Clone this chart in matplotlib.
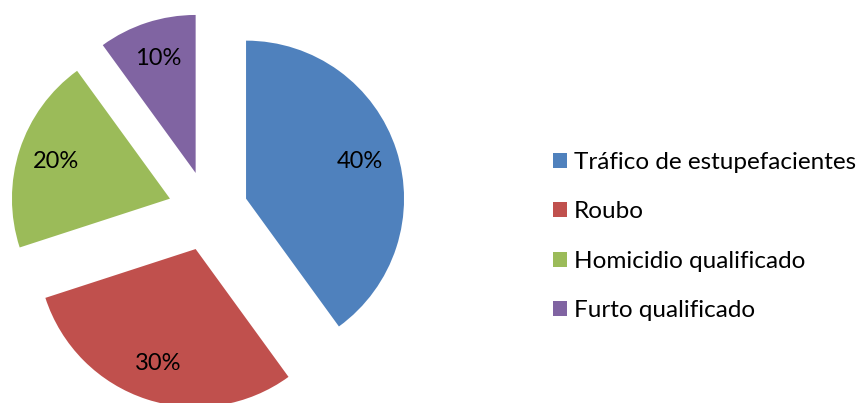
import matplotlib.pyplot as plt
from matplotlib.patches import Patch

categories = ["Tráfico de estupefacientes", "Roubo", "Homicidio qualificado", "Furto qualificado"]
shares = [40, 30, 20, 10]
colors = ["#4F81BD", "#C0504D", "#9BBB59", "#8064A2"]

plt.rcParams['font.family'] = ['Lato', 'DejaVu Sans']

W, H = 863, 403
fig = plt.figure(figsize=(W / 100, H / 100), dpi=100)
ax = fig.add_axes([0, 0, 1, 1])

# work in pixel-like units so the pie sits where it should
radius = 158
gap = 40  # explode offset, same units as radius
wedges, texts, autotexts = ax.pie(
    shares,
    colors=colors,
    startangle=90,
    counterclock=False,
    explode=[gap] * len(shares),
    radius=radius,
    center=(208, H - 211),
    autopct='%d%%',
    pctdistance=0.76,
    wedgeprops=dict(linewidth=0),
    textprops=dict(fontsize=17, color='black'),
)
ax.set_xlim(0, W)
ax.set_ylim(0, H)
ax.set_aspect('equal')
ax.axis('off')

handles = [Patch(facecolor=c, edgecolor='none') for c in colors]
fig.legend(handles, categories, loc='center left',
           bbox_to_anchor=(553 / W, 166.5 / H),
           frameon=False, fontsize=17.5, borderpad=0, borderaxespad=0,
           handlelength=0.58, handleheight=0.58, handletextpad=0.29,
           labelspacing=1.17)

fig.savefig('out.png', dpi=100)
